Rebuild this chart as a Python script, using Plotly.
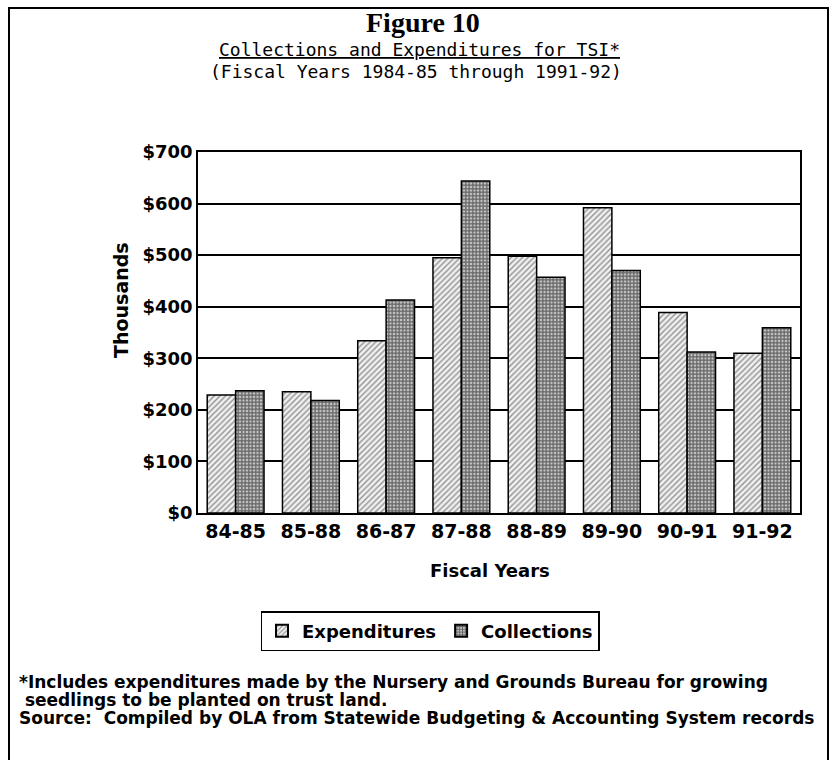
import plotly.graph_objects as go

# Fiscal-year categories (labels as printed on the chart)
fiscal_years = ["84-85", "85-88", "86-87", "87-88", "88-89", "89-90", "90-91", "91-92"]

# Values in thousands of dollars
expenditures = [229, 235, 334, 495, 498, 592, 389, 310]
collections = [237, 218, 413, 644, 457, 470, 312, 359]

y_ticks = [0, 100, 200, 300, 400, 500, 600, 700]
y_tick_labels = ["$0", "$100", "$200", "$300", "$400", "$500", "$600", "$700"]

SANS = "DejaVu Sans"

fig = go.Figure()
fig.add_trace(go.Bar(
    name="Expenditures",
    x=fiscal_years,
    y=expenditures,
    marker=dict(
        color="white",
        line=dict(color="black", width=1.5),
        pattern=dict(shape="/", fgcolor="#333333", bgcolor="#f0f0f0",
                     size=4, solidity=0.35),
    ),
))
fig.add_trace(go.Bar(
    name="Collections",
    x=fiscal_years,
    y=collections,
    marker=dict(
        color="white",
        line=dict(color="black", width=1.5),
        pattern=dict(shape="+", fgcolor="#000000", bgcolor="#c8c8c8",
                     size=3.5, solidity=0.6),
    ),
))

# Plot-area geometry in pixels (used to place surrounding text)
L, R, T, B = 198, 800, 152, 513
W, H = R - L, B - T


def px(x):
    return (x - L) / W


def py(y):
    return (B - y) / H


annotations = [
    dict(text="<b>Figure 10</b>", x=px(423), y=py(22),
         font=dict(family="Liberation Serif", size=28, color="black")),
    dict(text="<u>Collections and Expenditures for TSI*</u>", x=px(419), y=py(49),
         font=dict(family="DejaVu Sans Mono", size=18, color="black")),
    dict(text="(Fiscal Years 1984-85 through 1991-92)", x=px(416), y=py(72),
         font=dict(family="DejaVu Sans Mono", size=18, color="black")),
    dict(text="<b>Fiscal Years</b>", x=px(490), y=py(570),
         font=dict(family=SANS, size=18, color="black")),
    dict(text="<b>Thousands</b>", x=px(121), y=py(300), textangle=-90,
         font=dict(family=SANS, size=19, color="black")),
    dict(text="<b>*Includes expenditures made by the Nursery and Grounds Bureau for growing</b>",
         x=px(17), y=py(682), xanchor="left",
         font=dict(family=SANS, size=17, color="black")),
    dict(text="<b> seedlings to be planted on trust land.</b>",
         x=px(17), y=py(700), xanchor="left",
         font=dict(family=SANS, size=17, color="black")),
    dict(text="<b>Source:  Compiled by OLA from Statewide Budgeting &amp; Accounting System records</b>",
         x=px(17), y=py(718), xanchor="left",
         font=dict(family=SANS, size=17, color="black")),
]
for a in annotations:
    a.update(xref="paper", yref="paper", showarrow=False)
    a.setdefault("xanchor", "center")
    a.setdefault("yanchor", "middle")

fig.update_layout(
    width=838,
    height=760,
    margin=dict(l=L, r=838 - R, t=T, b=760 - B),
    paper_bgcolor="white",
    plot_bgcolor="white",
    barmode="group",
    bargap=0.245,
    bargroupgap=0,
    hovermode=False,
    annotations=annotations,
    legend=dict(
        orientation="h",
        x=px(430), y=py(631),
        xanchor="center", yanchor="middle",
        bordercolor="black", borderwidth=1.5,
        bgcolor="white",
        font=dict(family=SANS, size=18, color="black", weight="bold"),
        itemsizing="constant",
    ),
    shapes=[
        # outer frame around the whole figure
        dict(type="rect", xref="paper", yref="paper",
             x0=px(9), x1=px(828), y0=py(775), y1=py(8),
             line=dict(color="black", width=2)),
    ],
)

fig.update_xaxes(
    type="category",
    showline=True, linecolor="black", linewidth=1.5, mirror=True,
    ticks="",
    tickfont=dict(family=SANS, size=19, color="black", weight="bold"),
    showgrid=False,
)
fig.update_yaxes(
    range=[0, 700],
    tickvals=y_ticks,
    ticktext=y_tick_labels,
    showline=True, linecolor="black", linewidth=1.5, mirror=True,
    showgrid=True, gridcolor="black", gridwidth=1.5,
    zeroline=False,
    ticks="",
    tickfont=dict(family=SANS, size=18, color="black", weight="bold"),
)

fig.write_html("out.html")
